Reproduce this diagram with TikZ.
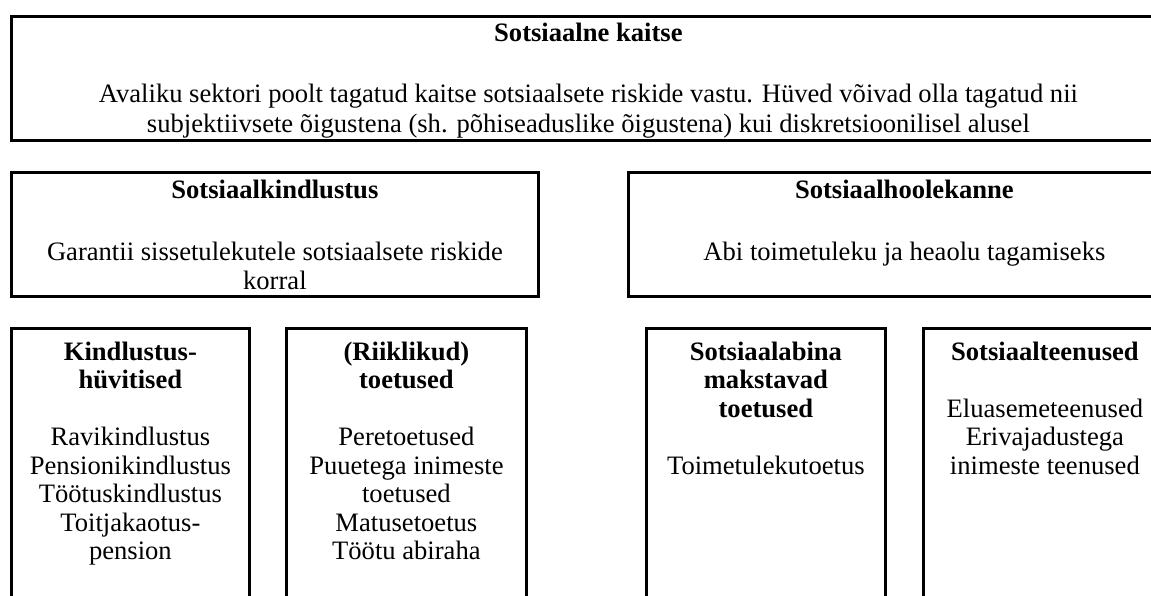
\documentclass[tikz,border=0pt]{standalone}
\usepackage{fontspec}
\setmainfont{Liberation Serif}
\usetikzlibrary{positioning}

\begin{document}
\begin{tikzpicture}[
  x=1pt, y=1pt,
  box/.style={draw, line width=2.8pt, anchor=north west, inner sep=0pt},
  txt/.style={align=center, inner sep=0pt, font=\fontsize{26.6}{28.5}\selectfont},
]
  \useasboundingbox (0,0) rectangle (1151,-596);
  \clip (0,0) rectangle (1151,-596);

  % frames
  \node[box, minimum width=1154pt, minimum height=124pt] (kaitse) at (10,-15) {};
  \node[box, minimum width=527pt, minimum height=124pt] (kindlustus) at (10,-171) {};
  \node[box, minimum width=552pt, minimum height=124pt] (hoolekanne) at (627,-171) {};
  \node[box, minimum width=238pt, minimum height=300pt] (hyvitised) at (10,-327) {};
  \node[box, minimum width=240pt, minimum height=300pt] (toetused) at (285,-327) {};
  \node[box, minimum width=239pt, minimum height=300pt] (sotsabi) at (645,-327) {};
  \node[box, minimum width=243pt, minimum height=300pt] (teenused) at (922,-327) {};

  % texts
  \node[txt, below=6.55pt of kaitse.north] (kaitsetxt) {\strut\textbf{Sotsiaalne kaitse}\\[32pt]
    Avaliku sektori poolt tagatud kaitse sotsiaalsete riskide vastu. Hüved võivad olla tagatud nii\\[1.5pt]
    subjektiivsete õigustena (sh. põhiseaduslike õigustena) kui diskretsioonilisel alusel};
  \node[txt, below=7pt of kindlustus.north] (kindlustustxt) {\strut\textbf{Sotsiaalkindlustus}\\[34pt]
    Garantii sissetulekutele sotsiaalsete riskide\\ korral};
  \node[txt, below=7pt of hoolekanne.north] (hoolekannetxt) {\strut\textbf{Sotsiaalhoolekanne}\\[34pt]
    Abi toimetuleku ja heaolu tagamiseks};
  \node[txt, below=13pt of hyvitised.north] (hyvitisedtxt) {\strut\textbf{Kindlustus-}\\ \textbf{hüvitised}\\[28.5pt]
    Ravikindlustus\\ Pensionikindlustus\\ Töötuskindlustus\\ Toitjakaotus-\\ pension};
  \node[txt, below=13pt of toetused.north] (toetusedtxt) {\strut\textbf{(Riiklikud)}\\ \textbf{toetused}\\[28.5pt]
    Peretoetused\\ Puuetega inimeste\\ toetused\\ Matusetoetus\\ Töötu abiraha};
  \node[txt, below=13pt of sotsabi.north] (sotsabitxt) {\strut\textbf{Sotsiaalabina}\\ \textbf{makstavad}\\ \textbf{toetused}\\[28.5pt]
    Toimetulekutoetus};
  \node[txt, below=13pt of teenused.north] (teenusedtxt) {\strut\textbf{Sotsiaalteenused}\\[28.5pt]
    Eluasemeteenused\\ Erivajadustega\\ inimeste teenused};
\end{tikzpicture}
\end{document}
